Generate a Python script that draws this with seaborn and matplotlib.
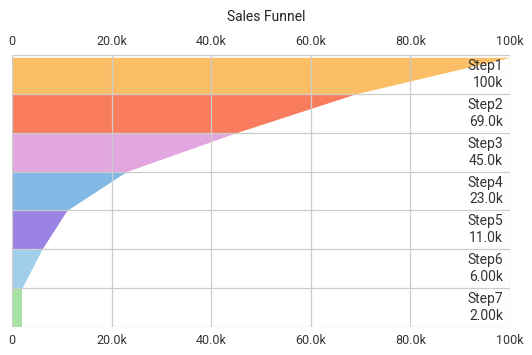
import matplotlib
matplotlib.use("Agg")
import matplotlib.pyplot as plt
import seaborn as sns
from matplotlib.ticker import FuncFormatter

steps = ["Step1", "Step2", "Step3", "Step4", "Step5", "Step6", "Step7"]
values = [100000, 69000, 45000, 23000, 11000, 6000, 2000]
colors = ["#FBBD66", "#F97C5E", "#E3A7DF", "#81B9E4", "#9A83E3", "#A1CEE9", "#A4E3A1"]
xticks = [0, 20000, 40000, 60000, 80000, 100000]

sns.set_style("white")
plt.rcParams['font.family'] = ['Roboto', 'DejaVu Sans']


def fmt_k(v, pos=None):
    if v == 0:
        return "0"
    k = v / 1000
    if k >= 100:
        return "%dk" % round(k)
    if k >= 10:
        return "%.1fk" % k
    return "%.2fk" % k


fig = plt.figure(figsize=(5.32, 3.55), dpi=100)
ax = fig.add_axes([12 / 532, 1 - 327 / 355, 498 / 532, 272 / 355])

n = len(values)
for i, (step, val) in enumerate(zip(steps, values)):
    nxt = values[i + 1] if i + 1 < n else val
    ax.fill_betweenx([i + 0.06 if i == 0 else i, i + 1], 0, [val, nxt],
                     color=colors[i], linewidth=0, zorder=1)
    ax.text(98600, i + 0.5, "%s\n%s" % (step, fmt_k(val)), ha='right', va='center',
            fontsize=10, color='#333333', linespacing=1.25, zorder=3)

ax.set_xlim(0, 100000)
ax.set_ylim(n, 0)
ax.set_xticks(xticks)
ax.xaxis.set_major_formatter(FuncFormatter(fmt_k))
ax.set_yticks(range(n + 1))
ax.set_yticklabels([])
ax.grid(True, color='#cccccc', linewidth=0.9, zorder=2)
ax.set_axisbelow(False)
ax.tick_params(axis='x', length=0, pad=5, labelsize=9, labelcolor='#333333',
               top=False, labeltop=True, bottom=False, labelbottom=True)
ax.tick_params(axis='y', length=0)
for s in ax.spines.values():
    s.set_visible(False)

fig.suptitle("Sales Funnel", y=1 - 17 / 355, va='center', fontsize=10, color='#222222')

fig.savefig("out.png", dpi=100)
